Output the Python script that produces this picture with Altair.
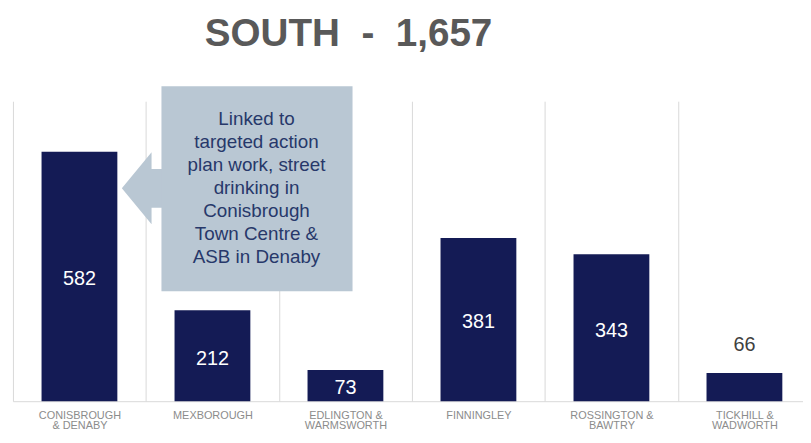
import altair as alt
import pandas as pd

# ---- data ----
areas = [
    "CONISBROUGH & DENABY",
    "MEXBOROUGH",
    "EDLINGTON & WARMSWORTH",
    "FINNINGLEY",
    "ROSSINGTON & BAWTRY",
    "TICKHILL & WADWORTH",
]
counts = [582, 212, 73, 381, 343, 66]
label_lines = {
    "CONISBROUGH & DENABY": ["CONISBROUGH", "& DENABY"],
    "EDLINGTON & WARMSWORTH": ["EDLINGTON  &", "WARMSWORTH"],
    "ROSSINGTON & BAWTRY": ["ROSSINGTON  &", "BAWTRY"],
    "TICKHILL & WADWORTH": ["TICKHILL  &", "WADWORTH"],
}
title_text = "SOUTH\u00a0 -\u00a0 1,657"
callout_lines = [
    "Linked to",
    "targeted action",
    "plan work, street",
    "drinking in",
    "Conisbrough",
    "Town Centre &",
    "ASB in Denaby",
]

df = pd.DataFrame({"area": areas, "count": counts})
note_df = pd.DataFrame({"note": [" ".join(callout_lines)]})

FONT = "Liberation Sans"
BAR = "#141b55"
CALLOUT = "#b9c7d3"

expr = "datum.value"
for k, v in reversed(list(label_lines.items())):
    arr = "[" + ",".join("'" + s + "'" for s in v) + "]"
    expr = f"datum.value == '{k}' ? {arr} : ({expr})"

x_scale = alt.Scale(paddingInner=0, paddingOuter=0, range=[0, 806])
x_enc = alt.X(
    "area:N",
    sort=areas,
    scale=x_scale,
    axis=alt.Axis(
        title=None,
        tickBand="extent",
        grid=True,
        gridColor="#d9d9d9",
        gridWidth=1,
        ticks=False,
        domain=True,
        domainColor="#d9d9d9",
        labelAngle=0,
        labelFont=FONT,
        labelFontSize=11,
        labelColor="#8c8c8c",
        labelLineHeight=11,
        labelPadding=8,
        labelExpr=expr,
    ),
)
y_scale = alt.Scale(domain=[0, 700])
y_enc = alt.Y("count:Q", scale=y_scale, axis=None)

bars = alt.Chart(df).mark_bar(color=BAR, width=alt.RelativeBandSize(0.57)).encode(x=x_enc, y=y_enc)

inside = (
    alt.Chart(df)
    .transform_filter("datum.count >= 70")
    .transform_calculate(mid="datum.count / 2")
    .mark_text(color="white", font=FONT, fontSize=20, baseline="middle", dy=3)
    .encode(x=x_enc, y=alt.Y("mid:Q", scale=y_scale, axis=None), text="count:Q")
)
outside = (
    alt.Chart(df)
    .transform_filter("datum.count < 70")
    .mark_text(color="#404040", font=FONT, fontSize=20, baseline="middle", dy=-28)
    .encode(x=x_enc, y=y_enc, text="count:Q")
)

arrow_path = "M -1 0 L -0.25 -0.91 L -0.25 -0.49 L 0.1 -0.49 L 0.1 0.49 L -0.25 0.49 L -0.25 0.91 Z"
arrow = (
    alt.Chart(note_df)
    .mark_point(shape=arrow_path, size=6400, filled=True, color=CALLOUT, opacity=1, strokeWidth=0)
    .encode(x=alt.value(150), y=alt.value(88))
)
box = (
    alt.Chart(note_df)
    .mark_rect(color=CALLOUT)
    .encode(x=alt.value(150), x2=alt.value(343), y=alt.value(-15), y2=alt.value(192))
)
note_text = (
    alt.Chart(note_df)
    .mark_text(font=FONT, fontSize=19, color="#27386a", lineHeight=23.2, align="center", baseline="middle")
    .encode(x=alt.value(246), y=alt.value(18), text=alt.value(callout_lines))
)
title = (
    alt.Chart(note_df)
    .mark_text(font=FONT, fontSize=39, fontWeight="bold", color="#595959", align="center", baseline="alphabetic")
    .encode(x=alt.value(339), y=alt.value(-56), text=alt.value(title_text))
)

chart = (
    alt.layer(bars, inside, outside, arrow, box, note_text, title)
    .properties(
        width=798,
        height=303,
        autosize=alt.AutoSizeParams(type="none"),
        padding={"left": 5, "top": 92, "right": 0, "bottom": 32},
    )
    .configure_view(stroke=None)
)

chart.save("out.html", embed_options={"renderer": "svg", "actions": False})
